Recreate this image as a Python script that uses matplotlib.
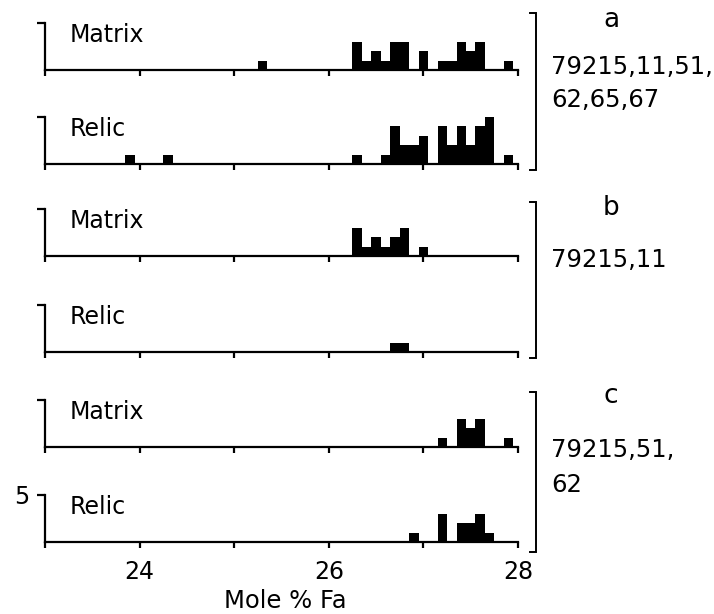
import matplotlib
matplotlib.use("Agg")
import matplotlib.pyplot as plt

plt.rcParams['font.family'] = ['DejaVu Sans']

# ---- data (bin centres in mole % Fa, bin width 0.1, counts) ----
bin_width = 0.1

a_matrix_fa = [25.3, 26.3, 26.4, 26.5, 26.6, 26.7, 26.8, 27.0, 27.2, 27.3, 27.4, 27.5, 27.6, 27.9]
a_matrix_n = [1, 3, 1, 2, 1, 3, 3, 2, 1, 1, 3, 2, 3, 1]

a_relic_fa = [23.9, 24.3, 26.3, 26.6, 26.7, 26.8, 26.9, 27.0, 27.2, 27.3, 27.4, 27.5, 27.6, 27.7, 27.9]
a_relic_n = [1, 1, 1, 1, 4, 2, 2, 3, 4, 2, 4, 2, 4, 5, 1]

b_matrix_fa = [26.3, 26.4, 26.5, 26.6, 26.7, 26.8, 27.0]
b_matrix_n = [3, 1, 2, 1, 2, 3, 1]

b_relic_fa = [26.7, 26.8]
b_relic_n = [1, 1]

c_matrix_fa = [27.2, 27.4, 27.5, 27.6, 27.9]
c_matrix_n = [1, 3, 2, 3, 1]

c_relic_fa = [26.9, 27.2, 27.4, 27.5, 27.6, 27.7]
c_relic_n = [1, 3, 2, 2, 3, 1]

panel_labels = ["Matrix", "Relic", "Matrix", "Relic", "Matrix", "Relic"]
group_letters = ["a", "b", "c"]
group_samples = [["79215,11,51,", "62,65,67"], ["79215,11"], ["79215,51,", "62"]]
x_ticks = [23, 24, 25, 26, 27, 28]
x_ticklabels = ["24", "26", "28"]
y_max = 5
x_label = "Mole % Fa"

series = [(a_matrix_fa, a_matrix_n), (a_relic_fa, a_relic_n),
          (b_matrix_fa, b_matrix_n), (b_relic_fa, b_relic_n),
          (c_matrix_fa, c_matrix_n), (c_relic_fa, c_relic_n)]

# ---- layout (pixels) ----
W, H = 714, 614
fig = plt.figure(figsize=(W / 100, H / 100), dpi=100)
x_left, x_right = 45, 518
panel_h = 47
baselines = [70, 164, 256, 352, 447, 542]

for i, ((fa, n), base) in enumerate(zip(series, baselines)):
    ax = fig.add_axes([x_left / W, (H - base) / H, (x_right - x_left) / W, panel_h / H])
    ax.bar(fa, n, width=bin_width, color='black', align='center', linewidth=0)
    ax.set_xlim(23, 28)
    ax.set_ylim(0, y_max)
    for s in ['top', 'right']:
        ax.spines[s].set_visible(False)
    for s in ['left', 'bottom']:
        ax.spines[s].set_linewidth(1.6)
    ax.set_xticks(x_ticks)
    ax.set_yticks([y_max])
    ax.tick_params(axis='x', direction='out', length=4, width=1.6)
    ax.tick_params(axis='y', direction='out', length=5.5, width=1.6, pad=6)
    if i == len(series) - 1:
        ax.set_xticks([24, 26, 28], labels=x_ticklabels, minor=False)
        ax.set_xticks([23, 25, 27], minor=True)
        ax.tick_params(axis='x', which='both', direction='out', length=4, width=1.6,
                       labelsize=17, pad=9)
        ax.set_yticklabels([str(y_max)], fontsize=17)
    else:
        ax.set_xticklabels([])
        ax.set_yticklabels([])
    ax.text(23.26, 3.0, panel_labels[i], fontsize=17, va='baseline', ha='left')
    ax.patch.set_alpha(0)

# ---- overlay for brackets and group labels ----
ov = fig.add_axes([0, 0, 1, 1])
ov.set_xlim(0, W)
ov.set_ylim(H, 0)
ov.axis('off')
ov.patch.set_alpha(0)

brackets = [(13, 170), (202, 358), (392, 552)]
bx = 536
for (top, bot) in brackets:
    ov.plot([bx - 6, bx, bx, bx - 6], [top, top, bot, bot], color='black', lw=1.4,
            solid_joinstyle='miter')

letter_y = [20, 208, 396]
sample_y = [[67, 100], [260], [450, 485]]
for letter, ly, samples, sys_ in zip(group_letters, letter_y, group_samples, sample_y):
    ov.text(611, ly, letter, fontsize=19, ha='center', va='center')
    for s, sy in zip(samples, sys_):
        ov.text(551, sy, s, fontsize=17.5, ha='left', va='center')

ov.text(285, 601, x_label, fontsize=17.5, ha='center', va='center')

fig.savefig("out.png", dpi=100, facecolor='white')
